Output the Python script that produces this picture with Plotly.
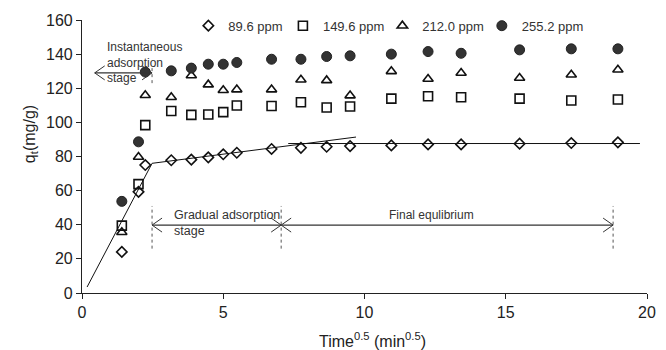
import plotly.graph_objects as go

# ---- data ----
t_sqrt = [1.41, 2.0, 2.24, 3.16, 3.87, 4.47, 5.0, 5.48, 6.71, 7.75, 8.66, 9.49,
          10.95, 12.25, 13.42, 15.49, 17.32, 18.97]
q_89_6 = [24.1, 59.3, 75.0, 77.8, 78.2, 79.5, 81.3, 82.2, 84.4, 85.1, 85.7, 86.1,
          86.5, 87.1, 87.1, 87.5, 87.9, 88.3]
q_149_6 = [39.5, 63.8, 98.4, 106.7, 104.4, 104.6, 106.0, 109.9, 109.6, 111.8, 108.7, 109.3,
           113.9, 115.3, 114.7, 113.9, 112.8, 113.4]
q_212_0 = [35.6, 79.7, 115.9, 114.7, 127.5, 122.1, 118.8, 119.2, 119.2, 125.0, 124.6, 115.7,
           129.9, 125.4, 128.9, 126.0, 127.9, 130.8]
q_255_2 = [53.7, 88.6, 129.5, 130.2, 131.8, 134.1, 134.1, 135.1, 137.0, 137.0, 138.6, 139.0,
           140.0, 141.5, 140.5, 142.5, 143.1, 143.1]

series_names = ["89.6 ppm", "149.6 ppm", "212.0 ppm", "255.2 ppm"]

# piecewise linear fits
fit1_x = [0.18, 2.48]
fit1_y = [3.5, 76.0]
fit2_x = [2.48, 9.7]
fit2_y = [76.0, 91.4]
fit3_x = [7.3, 19.75]
fit3_y = [87.6, 87.6]

# stage boundaries (x) and arrow levels (y)
stage_inst = [0.45, 2.48]
stage_grad = [2.48, 7.05]
stage_final = [7.05, 18.8]
arrow_y_top = 129.0
arrow_y_low = 39.8

x_ticks = [0, 5, 10, 15, 20]
y_ticks = [0, 20, 40, 60, 80, 100, 120, 140, 160]

FONT = "Liberation Sans, Arial, sans-serif"
INK = "#333"

fig = go.Figure()

# fit lines
for fx, fy in [(fit1_x, fit1_y), (fit2_x, fit2_y), (fit3_x, fit3_y)]:
    fig.add_trace(go.Scatter(x=fx, y=fy, mode="lines", line=dict(color="#111", width=1),
                             showlegend=False, hoverinfo="skip"))

styles = [
    dict(symbol="diamond-open", size=8, color="#111", line=dict(width=1.6, color="#111")),
    dict(symbol="square-open", size=9, color="#111", line=dict(width=1.6, color="#111")),
    dict(symbol="triangle-up-open", size=9, color="#111", line=dict(width=1.6, color="#111")),
    dict(symbol="circle", size=10, color="#333", line=dict(width=1, color="#222")),
]
data = [q_89_6, q_149_6, q_212_0, q_255_2]
legends = ["legend", "legend2", "legend3", "legend4"]
for name, ys, st, lg in zip(series_names, data, styles, legends):
    fig.add_trace(go.Scatter(x=t_sqrt, y=ys, mode="markers", name=name, marker=st,
                             legend=lg, cliponaxis=False))

# vertical dotted stage markers
def vline(x, y0, y1):
    fig.add_shape(type="line", x0=x, x1=x, y0=y0, y1=y1, xref="x", yref="y",
                  line=dict(color="#555", width=1, dash="dot"))

vline(stage_inst[1], 123, 133)
vline(stage_grad[0], 26, 51)
vline(stage_grad[1], 26, 51)
vline(stage_final[1], 26, 51)

# double-headed arrows: shaft in data units, open chevron heads sized in pixels
def chevron(x, y, direction):
    d = 10 * direction  # arms extend back from the tip
    fig.add_shape(type="path", xref="x", yref="y", xsizemode="pixel", ysizemode="pixel",
                  xanchor=x, yanchor=y, path=f"M {d},7 L 0,0 L {d},-7",
                  line=dict(color=INK, width=1))

def darrow(x0, x1, y):
    fig.add_shape(type="line", x0=x0, x1=x1, y0=y, y1=y, xref="x", yref="y",
                  line=dict(color=INK, width=1.2))
    chevron(x0, y, 1)
    chevron(x1, y, -1)

darrow(stage_inst[0], stage_inst[1], arrow_y_top)
darrow(stage_grad[0], stage_grad[1], arrow_y_low)
darrow(stage_final[0], stage_final[1], arrow_y_low)

txt_font = dict(family=FONT, size=12, color=INK)
fig.add_annotation(x=0.80, y=134.9, xref="x", yref="y", xanchor="left", yanchor="middle",
                   text="Instantaneous<br>adsorption<br>stage", showarrow=False, align="left",
                   font=txt_font)
fig.add_annotation(x=3.18, y=41.0, xref="x", yref="y", xanchor="left", yanchor="middle",
                   text="Gradual adsorption<br>stage", showarrow=False, align="left",
                   font=dict(family=FONT, size=12.5, color=INK))
fig.add_annotation(x=12.37, y=45.7, xref="x", yref="y", xanchor="center", yanchor="middle",
                   text="Final equlibrium", showarrow=False, font=txt_font)

# axis titles
title_font = dict(family=FONT, size=16, color="#222")
fig.add_annotation(x=-0.092, y=0.582, xref="paper", yref="paper", xanchor="center",
                   yanchor="middle", textangle=-90, text="q<sub>t</sub>(mg/g)",
                   showarrow=False, font=title_font)
fig.add_annotation(x=0.514, y=-0.172, xref="paper", yref="paper", xanchor="center",
                   yanchor="middle", text="Time<sup>0.5</sup> (min<sup>0.5</sup>)",
                   showarrow=False, font=title_font)

leg_font = dict(family=FONT, size=13, color=INK)
leg_common = dict(orientation="h", yref="paper", y=0.979, yanchor="middle", xanchor="left",
                  bgcolor="rgba(0,0,0,0)", borderwidth=0, itemwidth=30, font=leg_font,
                  tracegroupgap=0)
leg_x_px = [190, 286, 387, 488]
leg_x = [(p - 82) / 573.7 for p in leg_x_px]

axis_common = dict(showgrid=False, zeroline=False, showline=True, linecolor="#222",
                   linewidth=1.2, ticks="outside", ticklen=5, tickcolor="#222", tickwidth=1.2,
                   tickfont=dict(family=FONT, size=16, color="#222"))

fig.update_layout(
    width=666, height=350,
    margin=dict(l=82, r=10.3, t=18.3, b=57.3),
    paper_bgcolor="white", plot_bgcolor="white",
    showlegend=True,
    legend=dict(x=leg_x[0], **leg_common),
    legend2=dict(x=leg_x[1], **leg_common),
    legend3=dict(x=leg_x[2], **leg_common),
    legend4=dict(x=leg_x[3], **leg_common),
    xaxis=dict(range=[0, 20], tickvals=x_ticks, **axis_common),
    yaxis=dict(range=[0, 160], tickvals=y_ticks, **axis_common),
    font=dict(family=FONT),
)

fig.write_html("out.html")
